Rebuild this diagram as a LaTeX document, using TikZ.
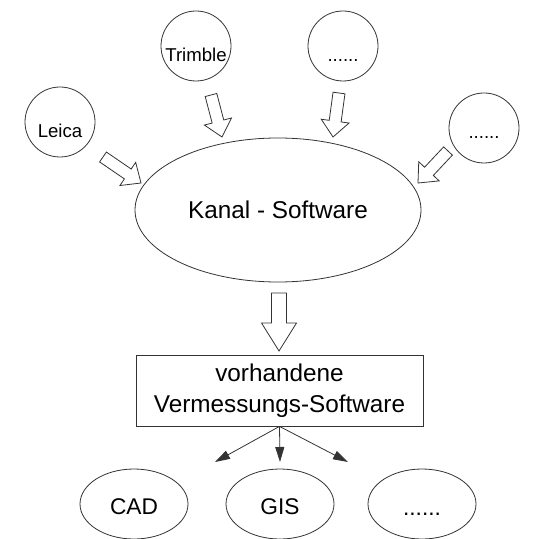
\documentclass[tikz,border=0pt]{standalone}
\usepackage{fontspec}
\setmainfont{Liberation Sans}
\usetikzlibrary{calc}
\usetikzlibrary{arrows.meta}
\usetikzlibrary{shapes.geometric}

\tikzset{
  hollow/.style args={#1/#2/#3}{to path={
    ($(\tikztostart)!#1!90:(\tikztotarget)$)
    -- ($(\tikztotarget)!#3!(\tikztostart)!#1!-90:(\tikztostart)$)
    -- ($(\tikztotarget)!#3!(\tikztostart)!#2!-90:(\tikztostart)$)
    -- (\tikztotarget)
    -- ($(\tikztotarget)!#3!(\tikztostart)!#2!90:(\tikztostart)$)
    -- ($(\tikztotarget)!#3!(\tikztostart)!#1!90:(\tikztostart)$)
    -- ($(\tikztostart)!#1!-90:(\tikztotarget)$) -- cycle}},
}

\begin{document}
\begin{tikzpicture}[x=0.5pt, y=-0.5pt, line width=0.4pt, draw=black!80,
    src/.style={draw, circle, minimum size=35pt, inner sep=0pt,
      font=\fontsize{9.3}{11}\selectfont, text height=16pt},
    tgt/.style={draw, ellipse, minimum width=54pt, minimum height=35pt,
      inner sep=0pt, font=\fontsize{11.35}{13}\selectfont, text height=11pt}]
    \useasboundingbox (0,0) rectangle (535,539);

    \node[src] (leica)   at ( 60,122) {Leica};
    \node[src] (trimble) at (196, 46) {Trimble};
    \node[src] (more1)   at (343, 46) {......};
    \node[src, text height=11pt] (more2) at (484,128) {......};

    \node[draw, ellipse, minimum width=143pt, minimum height=72pt, inner sep=0pt,
      font=\fontsize{12.15}{14}\selectfont] (kanal) at (278,210) {Kanal - Software};

    \node[draw, minimum width=143.5pt, minimum height=35.5pt, inner sep=0pt, align=center,
      font=\fontsize{12.15}{15.5}\selectfont] (verm) at (279.5,390.5)
      {vorhandene\\Vermessungs-Software};

    \node[tgt] (cad)   at (134,504) {CAD};
    \node[tgt] (gis)   at (280,504) {GIS};
    \node[tgt] (more3) at (422,504) {......};

    \coordinate (l1) at (103,157);  \coordinate (l2) at (141,183);
    \coordinate (t1) at (211, 95);  \coordinate (t2) at (222,137);
    \coordinate (m1) at (339, 93);  \coordinate (m2) at (333,137);
    \coordinate (r1) at (448,151);  \coordinate (r2) at (418,183);
    \coordinate (k1) at (279,293);  \coordinate (k2) at (279,351);
    \draw (l1) to[hollow=3pt/7pt/8pt] (l2);
    \draw (t1) to[hollow=3pt/7pt/8pt] (t2);
    \draw (m1) to[hollow=3pt/7pt/8pt] (m2);
    \draw (r1) to[hollow=3pt/7pt/8pt] (r2);
    \draw (k1) to[hollow=3.75pt/8.75pt/14pt] (k2);

    \coordinate (c1) at (215,462);
    \coordinate (c2) at (280,462);
    \coordinate (c3) at (348,462);
    \begin{scope}[-{Triangle[length=7.5pt,width=4.5pt]}]
      \draw (verm.south) -- (c1);
      \draw (verm.south) -- (c2);
      \draw (verm.south) -- (c3);
    \end{scope}
  \end{tikzpicture}
\end{document}
